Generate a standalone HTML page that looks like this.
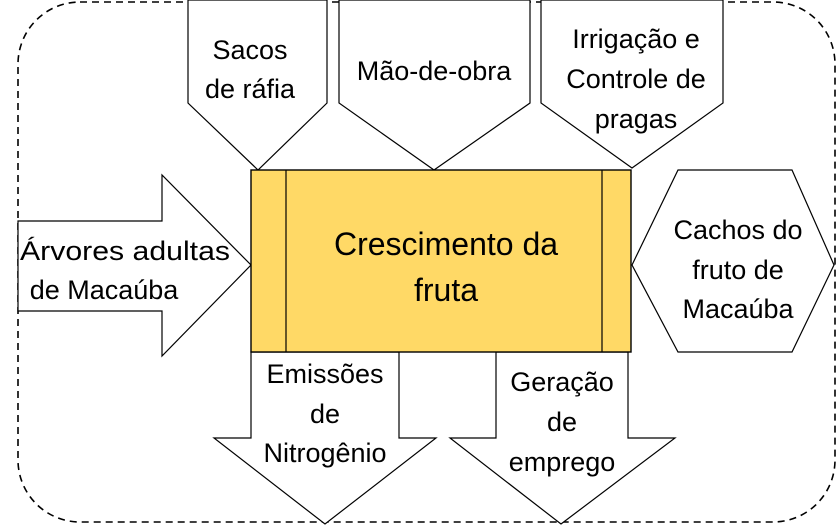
<!DOCTYPE html>
<html><head><meta charset="utf-8"><style>
html,body{margin:0;padding:0;background:#fff}
svg{display:block}
text{font-family:"Liberation Sans",sans-serif;font-size:27px;fill:#000;text-anchor:middle}
</style></head><body>
<svg width="839" height="526" viewBox="0 0 839 526" xmlns="http://www.w3.org/2000/svg">
<rect x="18" y="2" width="817" height="520" rx="62" ry="62" fill="none" stroke="#000" stroke-width="1.6" stroke-dasharray="7,5"/>
<g fill="#fff" stroke="#000" stroke-width="1.2">
<polygon points="188,0 327,0 327,103 258,170 188,103"/>
<polygon points="339,0 530,0 530,103 434,170 339,103"/>
<polygon points="541,0 723,0 723,103 632,168 541,103"/>
<polygon points="18,221 162,221 162,175 251,265 162,356 162,311 18,311"/>
<polygon points="632,265 678,170 792,170 834,265 792,352 678,352"/>
<polygon points="251,352 399,352 399,438 436,438 325,524 214,438 251,438"/>
<polygon points="496,352 628,352 628,438 675,438 561,524 450,438 496,438"/>
</g>
<rect x="251" y="170" width="380" height="182" fill="#FFD966" stroke="#000" stroke-width="1.4"/>
<line x1="286" y1="170" x2="286" y2="352" stroke="#000" stroke-width="1.2"/>
<line x1="602" y1="170" x2="602" y2="352" stroke="#000" stroke-width="1.2"/>
<text x="250" y="59">Sacos</text>
<text x="250" y="98">de ráfia</text>
<text x="434" y="80">Mão-de-obra</text>
<text x="636" y="48">Irrigação e</text>
<text x="636" y="88">Controle de</text>
<text x="636" y="128">pragas</text>
<text x="125" y="260" textLength="210" lengthAdjust="spacingAndGlyphs">Árvores adultas</text>
<text x="104" y="299">de Macaúba</text>
<text x="446" y="255" style="font-size:32px">Crescimento da</text>
<text x="446" y="301" style="font-size:32px">fruta</text>
<text x="738" y="239">Cachos do</text>
<text x="738" y="279">fruto de</text>
<text x="738" y="318">Macaúba</text>
<text x="325" y="383">Emissões</text>
<text x="325" y="423">de</text>
<text x="325" y="462">Nitrogênio</text>
<text x="562" y="391">Geração</text>
<text x="562" y="431">de</text>
<text x="562" y="471">emprego</text>
</svg>
</body></html>
